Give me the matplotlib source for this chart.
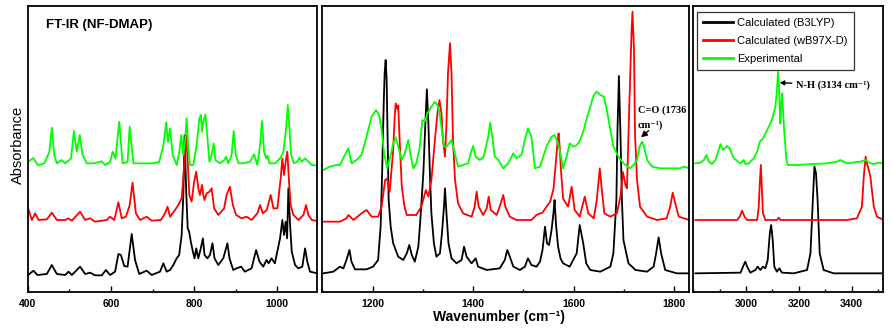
import matplotlib.pyplot as plt
from matplotlib.ticker import MultipleLocator, FixedLocator

plt.rcParams['font.family'] = ['Liberation Sans', 'DejaVu Sans']
SERIF = ['Liberation Serif', 'DejaVu Serif']

# =====================================================
# 1. Spectra (wavenumber, absorbance a.u.)
# =====================================================
# ---- panel 1 : 400 - 1100 cm-1 ----
b1_x = [401, 414, 423, 446, 458, 470, 490, 498, 506, 526, 538, 550, 562, 578, 588, 598,
        610, 618, 624, 632, 640, 650, 658, 668, 686, 698, 718, 726, 734, 742, 750, 758,
        764, 770, 774, 777, 781, 784.5, 788, 792, 797, 801, 805, 810, 816, 821, 825, 832,
        838, 844, 849, 858, 870, 880, 885, 894, 902, 913, 922, 938, 949, 957, 966, 974,
        979, 986, 994, 1006.5, 1012, 1016, 1020, 1023.4, 1026.5, 1030.6, 1034.6, 1042.6, 1050.6, 1060, 1066.6, 1072,
        1078.6, 1096]
b1_y = [5.1, 6.4, 5.1, 5.4, 8.1, 5.4, 5.1, 6.1, 5.1, 7.6, 5.4, 5.8, 5.0, 5.0, 6.6, 5.1,
        6.1, 11.4, 11.1, 7.8, 7.6, 17.4, 9.6, 5.4, 6.4, 5.1, 6.1, 8.6, 6.1, 6.6, 8.1, 10.1,
        11.1, 17.1, 29.1, 47.0, 30.0, 19.1, 18.1, 15.1, 12.1, 10.1, 13.1, 10.1, 13.1, 16.1, 11.1, 10.1,
        11.1, 14.6, 10.1, 8.1, 10.1, 14.6, 10.1, 6.6, 7.1, 7.6, 6.1, 7.1, 12.6, 9.1, 7.6, 9.6,
        8.6, 10.1, 8.6, 16.1, 21.6, 17.1, 21.1, 16.1, 31.1, 20.1, 12.1, 8.1, 7.1, 7.6, 13.1, 9.1,
        6.1, 5.6]

r1_x = [401, 410, 418, 426, 446, 458, 470, 490, 498, 506, 526, 538, 550, 562, 590, 598,
        608, 618, 626, 636, 645, 652, 660, 670, 686, 698, 720, 730, 736, 742, 754, 762,
        770, 774, 778, 781, 784.5, 788.5, 794, 800, 805, 810, 814, 819, 822, 825, 830, 837,
        842, 848, 858, 872, 878, 886, 893, 901, 914, 926, 938, 952, 958.5, 965, 974.5, 984,
        990.5, 1000, 1008, 1012, 1016, 1020, 1024, 1028, 1032, 1038.6, 1050.6, 1062.6, 1069, 1074.6, 1082.6, 1096]
r1_y = [25.1, 21.6, 23.6, 21.6, 21.8, 23.8, 21.6, 21.6, 22.1, 21.4, 24.1, 21.6, 22.1, 21.1, 21.6, 22.6,
        21.6, 26.9, 22.1, 22.6, 26.0, 32.8, 23.6, 21.6, 22.6, 21.4, 21.6, 23.6, 25.6, 22.6, 24.6, 26.1,
        28.1, 34.1, 42.1, 47.1, 39.1, 29.1, 27.1, 33.1, 36.1, 31.1, 29.1, 32.1, 29.1, 27.6, 29.6, 30.1,
        31.1, 25.1, 23.1, 25.1, 29.1, 31.6, 26.1, 23.1, 22.1, 22.6, 21.6, 23.6, 26.1, 23.6, 24.6, 29.1,
        25.1, 25.1, 34.1, 40.1, 35.1, 39.1, 42.1, 33.1, 26.1, 23.1, 21.6, 23.1, 26.1, 23.1, 21.6, 21.3]

g1_x = [401, 413, 425, 440, 452, 458, 464, 470, 482, 490, 504, 511, 518, 525, 532, 542,
        560, 578, 586, 598, 604, 611, 620, 628, 640, 645, 654, 680, 700, 716, 726, 733,
        737, 742, 748.5, 758, 764.5, 769, 774, 778, 782, 786, 790, 798, 806, 812.6, 816, 819,
        822, 827, 832, 836.7, 842, 847, 851, 862, 872.7, 876.7, 882, 890, 895, 900, 906.4, 918.4,
        934.4, 944, 952, 958.5, 963, 968, 972.9, 976, 981, 994.5, 1006.5, 1014.5, 1021, 1025, 1029, 1033,
        1040, 1048, 1053, 1058.6, 1066.6, 1074.6, 1082.6, 1096]
g1_y = [39.0, 40.2, 38.0, 38.6, 42.0, 49.3, 41.0, 38.6, 39.6, 38.6, 40.0, 48.3, 42.1, 47.1, 41.0, 38.6,
        38.6, 39.2, 38.1, 39.0, 42.1, 40.0, 51.1, 38.6, 39.0, 49.6, 38.6, 38.6, 38.6, 39.0, 44.0, 50.9,
        45.0, 49.1, 41.1, 38.1, 42.1, 47.1, 41.1, 45.1, 52.1, 43.1, 38.1, 38.1, 44.1, 52.1, 53.1, 48.1,
        51.1, 53.3, 46.1, 39.1, 41.1, 44.6, 39.6, 38.6, 39.6, 40.6, 38.6, 41.1, 48.3, 41.1, 38.6, 38.6,
        39.1, 41.3, 38.1, 44.1, 51.3, 42.1, 40.1, 40.9, 38.6, 38.6, 40.1, 42.1, 49.1, 56.1, 49.1, 41.1,
        38.6, 39.1, 40.3, 39.1, 40.1, 39.1, 38.1, 37.9]

# ---- panel 2 : 1100 - 1830 cm-1 ----
b2_x = [1102, 1122, 1135, 1142, 1148, 1154, 1158, 1165, 1188, 1201, 1211, 1216, 1219, 1222, 1224, 1226,
        1228, 1230, 1232, 1236, 1241, 1251, 1261, 1268, 1273, 1278, 1284, 1291, 1295, 1301, 1305, 1308,
        1311, 1314, 1317, 1322, 1327, 1334, 1338, 1342, 1344, 1347, 1351, 1357, 1367, 1377, 1382, 1387,
        1397, 1405, 1410, 1427, 1453, 1463, 1468, 1473, 1480, 1493, 1503, 1509, 1516, 1526, 1533, 1538,
        1543, 1547, 1551, 1556, 1560, 1562, 1565, 1569, 1574, 1579, 1592, 1606, 1612, 1619, 1625, 1633,
        1653, 1673, 1679, 1685, 1687, 1690, 1693, 1696, 1699, 1709, 1723, 1746, 1759, 1764, 1769, 1774,
        1782, 1805, 1830]
b2_y = [5.6, 6.1, 7.6, 7.1, 9.6, 12.6, 9.1, 6.8, 6.8, 7.6, 9.6, 19.6, 35.6, 55.6, 65.6, 69.6,
        63.6, 45.6, 27.6, 19.6, 14.6, 10.6, 9.6, 11.6, 14.1, 11.1, 9.1, 13.6, 21.6, 35.6, 50.6, 60.8,
        50.6, 35.6, 23.6, 14.6, 10.6, 11.6, 17.6, 25.6, 31.1, 23.6, 14.6, 10.1, 8.6, 9.6, 13.6, 10.6,
        8.6, 10.1, 7.6, 6.6, 7.1, 9.6, 12.6, 10.6, 7.6, 6.6, 7.6, 10.1, 8.1, 7.6, 9.1, 12.6,
        19.6, 14.6, 14.1, 18.6, 24.0, 27.6, 20.0, 13.6, 10.0, 8.6, 7.6, 11.6, 20.1, 14.6, 8.6, 6.6,
        6.1, 7.6, 11.6, 27.6, 47.6, 64.8, 47.6, 27.6, 15.6, 8.6, 6.6, 6.1, 7.6, 11.6, 16.4, 11.6,
        6.6, 5.6, 5.6]

r2_x = [1102, 1135, 1148, 1152, 1162, 1178, 1188, 1198, 1211, 1218, 1225, 1229, 1234, 1241, 1244, 1246,
        1249, 1251, 1254, 1258, 1263, 1268, 1287, 1297, 1306, 1311, 1317, 1324, 1329, 1333, 1337, 1340,
        1344, 1347, 1350, 1354, 1357, 1360, 1364, 1370, 1380, 1397, 1403, 1407, 1411, 1420, 1427, 1431,
        1435, 1447, 1455, 1460, 1464, 1473, 1486, 1516, 1526, 1533, 1537, 1546, 1553, 1560, 1564, 1568,
        1570, 1572, 1575, 1579, 1589, 1596, 1602, 1612, 1622, 1629, 1640, 1646, 1652, 1656, 1661, 1673,
        1686, 1693, 1698, 1703, 1706, 1711, 1715, 1717, 1720, 1722, 1726, 1732, 1746, 1766, 1785, 1792,
        1797, 1802, 1809, 1830]
r2_y = [21.1, 21.1, 22.1, 23.1, 21.6, 23.6, 24.6, 22.6, 22.6, 25.6, 33.6, 34.0, 30.0, 42.6, 52.6, 56.6,
        55.0, 56.0, 45.0, 32.0, 26.0, 23.1, 23.1, 25.6, 30.6, 28.6, 33.6, 45.6, 53.6, 57.6, 53.6, 45.6,
        40.6, 50.6, 65.6, 74.6, 65.6, 45.6, 33.6, 26.6, 23.6, 22.6, 25.6, 30.1, 25.6, 23.1, 25.1, 28.6,
        24.6, 23.1, 26.6, 29.1, 25.6, 22.6, 21.6, 21.6, 23.1, 23.6, 23.6, 25.6, 27.0, 31.0, 38.0, 45.0,
        47.6, 44.0, 36.0, 28.0, 25.6, 31.6, 24.6, 22.6, 28.6, 23.6, 22.1, 27.6, 37.1, 30.6, 23.6, 22.6,
        23.6, 28.6, 36.0, 32.0, 31.1, 57.6, 77.6, 84.1, 72.6, 47.6, 33.6, 25.6, 22.6, 21.6, 22.1, 25.6,
        29.8, 26.6, 22.6, 21.6]

g2_x = [1102, 1115, 1128, 1135, 1145, 1152, 1158, 1168, 1178, 1188, 1198, 1207, 1213, 1218, 1223, 1229,
        1236, 1241, 1246, 1251, 1258, 1264, 1271, 1276, 1281, 1287, 1294, 1299, 1304, 1309, 1315, 1324,
        1331, 1337, 1342, 1347, 1357, 1362, 1370, 1390, 1395, 1400, 1405, 1413, 1421, 1430, 1434, 1439,
        1443, 1450, 1460, 1470, 1480, 1486, 1496, 1503, 1509, 1516, 1523, 1533, 1546, 1556, 1562, 1569,
        1576, 1579, 1586, 1592, 1599, 1606, 1613, 1620, 1626, 1633, 1640, 1646, 1653, 1660, 1666, 1673,
        1679, 1689, 1699, 1712, 1719, 1726, 1731, 1736, 1740, 1746, 1756, 1772, 1812, 1819, 1830]
g2_y = [36.6, 37.6, 38.1, 38.1, 41.1, 43.1, 38.6, 39.6, 41.1, 46.6, 52.6, 54.6, 53.1, 48.6, 41.6, 37.1,
        41.1, 44.6, 46.4, 43.6, 39.6, 41.6, 45.6, 40.6, 37.1, 38.6, 43.6, 51.6, 51.1, 53.6, 55.1, 57.1,
        55.6, 49.6, 43.6, 43.6, 45.6, 42.6, 37.6, 38.6, 41.6, 43.8, 40.6, 39.6, 40.6, 46.6, 50.8, 45.6,
        40.6, 39.6, 37.1, 38.6, 41.6, 40.1, 41.1, 45.6, 49.1, 46.6, 37.1, 37.6, 43.6, 46.6, 47.1, 44.6,
        39.6, 37.1, 40.6, 44.6, 43.6, 44.0, 45.6, 48.6, 52.1, 55.6, 59.1, 60.1, 59.1, 58.6, 54.6, 48.6,
        43.6, 40.6, 38.6, 37.1, 38.1, 39.6, 43.6, 45.1, 43.6, 39.6, 37.6, 37.1, 37.1, 37.6, 37.1]

# ---- panel 3 : 2800 - 3520 cm-1 ----
b3_x = [2808, 2979, 2991, 2997, 3004, 3016, 3035, 3044, 3054, 3064, 3073, 3082, 3090, 3095, 3101, 3107,
        3117, 3126, 3136, 3181, 3231, 3244, 3253, 3259, 3265, 3271, 3279, 3294, 3332, 3521]
b3_y = [5.6, 5.8, 8.1, 9.1, 7.6, 5.8, 6.6, 7.6, 6.6, 7.6, 7.1, 9.6, 17.6, 20.1, 15.6, 7.6,
        6.1, 7.1, 5.8, 5.6, 6.6, 11.6, 27.6, 37.6, 35.6, 27.6, 11.6, 6.6, 5.6, 5.6]

r3_x = [2808, 2966, 2976, 2985, 2994, 3004, 3042, 3048, 3052, 3056, 3059, 3064, 3073, 3117, 3124, 3130,
        3383, 3420, 3439, 3446, 3453, 3458, 3465, 3471, 3484, 3496, 3521]
r3_y = [21.6, 21.6, 22.6, 24.4, 22.6, 21.6, 21.6, 25.6, 32.6, 38.1, 32.6, 23.6, 21.6, 21.6, 22.3, 21.6,
        21.6, 22.1, 25.6, 34.6, 40.6, 38.6, 36.6, 34.6, 25.6, 22.6, 21.6]

g3_x = [2808, 2827, 2840, 2850, 2859, 2871, 2884, 2896, 2903, 2913, 2928, 2938, 2953, 2979, 2991, 2997,
        3010, 3029, 3042, 3052, 3064, 3080, 3098, 3111, 3117, 3121, 3125, 3129, 3133, 3136, 3140, 3145,
        3153, 3158, 3193, 3256, 3307, 3345, 3357, 3383, 3433, 3452, 3471, 3484, 3503, 3521]
g3_y = [38.6, 38.8, 39.6, 41.1, 39.1, 38.4, 39.6, 42.6, 44.4, 42.6, 43.8, 43.1, 40.1, 38.6, 39.6, 38.4,
        38.6, 40.1, 42.1, 45.1, 46.1, 48.6, 51.6, 55.6, 60.6, 66.1, 61.6, 50.6, 55.6, 59.6, 54.6, 47.6,
        39.6, 38.1, 38.1, 38.4, 38.6, 39.1, 39.6, 38.6, 39.1, 39.6, 38.6, 38.4, 38.8, 38.6]

labels = ["Calculated (B3LYP)", "Calculated (wB97X-D)", "Experimental"]
colors = ["black", "#ff0000", "#00ff00"]

panels = [
    ((400, 1096), [400, 600, 800, 1000], (b1_x, b1_y), (r1_x, r1_y), (g1_x, g1_y)),
    ((1100, 1830), [1200, 1400, 1600, 1800], (b2_x, b2_y), (r2_x, r2_y), (g2_x, g2_y)),
    ((2800, 3520), [3000, 3200, 3400], (b3_x, b3_y), (r3_x, r3_y), (g3_x, g3_y)),
]

# =====================================================
# 2. Figure with three broken-axis panels
# =====================================================
W, H = 892, 330
fig = plt.figure(figsize=(W / 100, H / 100), dpi=100)

edges = [(27.7, 317.3), (322.3, 689.3), (693.3, 883.3)]
axes = []
for (x0, x1), (xlim, majors, *curves) in zip(edges, panels):
    ax = fig.add_axes([x0 / W, 1 - 292 / H, (x1 - x0) / W, 286 / H])
    for (xs, ys), c, lab in zip(curves, colors, labels):
        ax.plot(xs, ys, color=c, lw=1.3, label=lab, solid_joinstyle="round")
    ax.set_xlim(*xlim)
    ax.set_ylim(0, 85.8)
    ax.set_yticks([])
    ax.xaxis.set_major_locator(FixedLocator(majors))
    ax.xaxis.set_minor_locator(MultipleLocator(100))
    ax.tick_params(axis="x", which="major", direction="in", length=4, width=1,
                   labelsize=7.5, pad=5)
    ax.tick_params(axis="x", which="minor", direction="in", length=2.5, width=1)
    for lbl in ax.get_xticklabels():
        lbl.set_fontweight("bold")
    for sp in ax.spines.values():
        sp.set_linewidth(1.3)
    axes.append(ax)

ax1, ax2, ax3 = axes

# =====================================================
# 3. Text, annotations, legend
# =====================================================
ax1.text(0.063, 0.934, "FT-IR (NF-DMAP)", transform=ax1.transAxes,
         fontsize=9.5, fontweight="bold", va="center", ha="left")

fig.text(18 / W, 1 - 145 / H, "Absorbance", rotation=90, fontsize=10.5,
         ha="center", va="center")
fig.text(499 / W, 1 - 317 / H, "Wavenumber (cm\u207b\u00b9)", fontsize=10,
         fontweight="bold", ha="center", va="center")

ax2.text(1727, 54.6, "C=O (1736", family=SERIF, fontweight="bold", fontsize=7.5,
         va="center", ha="left", clip_on=True)
ax2.text(1727, 50.1, "cm\u207b\u00b9)", family=SERIF, fontweight="bold", fontsize=7.5,
         va="center", ha="left")
ax2.annotate("", xy=(1734, 46.4), xytext=(1749, 48.4),
             arrowprops=dict(arrowstyle="-|>,head_length=0.35,head_width=0.18",
                             color="black", lw=1, shrinkA=0, shrinkB=0))

ax3.annotate("N-H (3134 cm\u207b\u00b9)", xy=(3127, 62.8), xytext=(3189, 62.1),
             family=SERIF, fontweight="bold", fontsize=7.5, ha="left", va="center",
             arrowprops=dict(arrowstyle="-|>,head_length=0.35,head_width=0.18",
                             color="black", lw=1, shrinkA=1, shrinkB=0))

leg = ax3.legend(loc="upper left", bbox_to_anchor=(0.018, 0.980), borderaxespad=0,
                 fontsize=8, handlelength=2.7, handletextpad=0.33, labelspacing=0.7,
                 borderpad=0.58, fancybox=False, framealpha=1)
leg.get_frame().set_edgecolor("#333333")
leg.get_frame().set_linewidth(0.9)
for line in leg.get_lines():
    line.set_linewidth(2)

fig.savefig("out.png", dpi=100)
